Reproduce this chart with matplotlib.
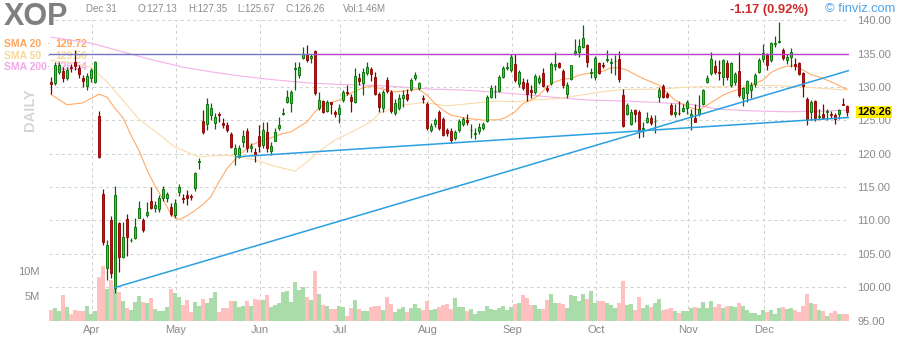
import numpy as np
import matplotlib
matplotlib.use("Agg")
import matplotlib.pyplot as plt
import matplotlib.transforms as mtrans

plt.rcParams['font.family'] = ['Liberation Sans', 'DejaVu Sans']

# daily candles, 18 Mar .. 31 Dec (200 sessions)
opens = [
    130.8, 130.55, 132.3, 132.4, 131.4, 132.95, 133.8, 132.8, 131.4, 130.2,
    131.3, 130.8, 125.65, 113.9, 102.8, 110.05, 99.9, 109.55, 104.55, 110.2,
    107.0, 107.3, 110.4, 110.05, 110.8, 112.9, 111.8, 111.65, 113.4, 113.3,
    112.05, 110.8, 114.3, 113.3, 113.8, 113.6, 114.8, 118.8, 124.9, 124.4,
    125.8, 124.55, 125.9, 124.55, 124.3, 122.95, 119.9, 119.55, 121.8, 123.45,
    120.9, 120.2, 122.7, 121.3, 123.3, 120.4, 121.9, 123.9, 126.0, 127.8,
    127.55, 132.75, 131.8, 134.4, 134.9, 134.3, 135.4, 126.8, 127.9, 126.4,
    127.7, 126.3, 125.9, 128.05, 129.25, 128.55, 127.7, 131.3, 130.55, 132.05,
    132.7, 131.45, 128.95, 126.8, 131.0, 129.3, 126.05, 126.9, 128.3, 128.9,
    129.7, 131.3, 129.9, 128.35, 127.4, 123.55, 124.4, 126.2, 125.2, 123.55,
    123.4, 122.3, 123.55, 124.4, 125.0, 123.5, 123.0, 123.4, 123.8, 124.9,
    128.55, 129.35, 129.4, 131.55, 132.9, 132.55, 133.4, 130.4, 130.7, 130.55,
    129.5, 129.2, 130.7, 132.05, 129.9, 130.55, 133.2, 133.55, 132.4, 128.9,
    131.2, 135.05, 135.2, 136.05, 136.3, 132.1, 131.55, 133.55, 133.25, 134.1,
    133.65, 133.85, 134.15, 128.8, 125.9, 124.4, 126.55, 126.3, 123.75, 124.7,
    125.3, 124.85, 128.55, 130.2, 129.0, 127.3, 125.9, 126.15, 126.4, 126.8,
    125.55, 125.4, 125.9, 127.4, 130.7, 132.05, 133.15, 132.2, 131.55, 133.55,
    130.3, 130.8, 132.4, 128.3, 129.05, 129.55, 130.4, 132.2, 134.2, 134.8,
    134.05, 136.4, 136.75, 135.55, 134.05, 134.55, 133.4, 133.55, 132.05, 128.2,
    126.3, 127.9, 125.5, 125.9, 126.2, 125.95, 125.8, 125.9, 127.45, 127.13,
]
highs = [
    131.55, 133.8, 133.8, 133.0, 133.0, 133.5, 135.6, 133.3, 131.8, 132.1,
    132.8, 133.9, 126.4, 114.7, 107.0, 110.6, 115.1, 109.8, 109.8, 111.0,
    107.3, 110.4, 112.9, 110.4, 112.8, 115.0, 112.9, 113.8, 115.2, 114.3,
    112.6, 113.2, 115.4, 113.9, 114.6, 114.0, 117.3, 119.4, 126.6, 128.3,
    127.55, 126.05, 126.3, 125.3, 124.8, 123.2, 121.4, 121.3, 123.5, 123.8,
    121.55, 120.8, 124.3, 124.8, 124.8, 121.8, 123.8, 125.55, 126.8, 129.55,
    129.55, 133.8, 133.8, 136.05, 136.3, 134.9, 135.55, 129.2, 128.05, 128.0,
    127.8, 126.55, 127.4, 129.55, 130.3, 128.9, 132.8, 132.05, 132.8, 133.8,
    133.05, 132.3, 129.3, 129.55, 131.5, 129.55, 128.2, 128.9, 129.55, 129.7,
    131.3, 132.2, 130.8, 128.8, 127.7, 124.55, 125.4, 126.55, 125.5, 123.9,
    123.8, 123.55, 125.2, 125.55, 125.9, 124.4, 123.8, 124.55, 124.8, 128.8,
    130.3, 130.3, 131.8, 133.1, 133.8, 134.9, 134.9, 132.6, 131.3, 131.2,
    130.3, 131.9, 131.8, 132.8, 130.3, 133.8, 135.3, 133.8, 132.7, 130.8,
    133.3, 137.2, 137.2, 139.3, 136.4, 132.8, 134.7, 133.7, 133.8, 135.55,
    134.3, 134.8, 135.4, 129.7, 127.55, 126.7, 126.7, 126.55, 124.8, 126.3,
    125.8, 125.8, 130.05, 130.4, 129.2, 127.55, 127.4, 127.9, 127.4, 128.05,
    126.7, 127.4, 128.8, 129.7, 131.8, 135.2, 134.0, 134.05, 134.2, 134.05,
    133.8, 132.3, 135.2, 130.05, 131.05, 130.8, 132.05, 134.3, 136.4, 135.05,
    136.7, 137.7, 139.7, 135.8, 134.9, 135.8, 134.3, 133.8, 132.3, 128.55,
    128.05, 128.05, 126.7, 127.4, 126.7, 126.4, 126.05, 126.7, 128.4, 127.35,
]
lows = [
    128.9, 130.3, 132.0, 130.8, 131.0, 132.3, 132.6, 131.3, 130.0, 129.5,
    130.8, 130.6, 119.3, 106.3, 101.1, 101.4, 99.1, 102.3, 104.3, 104.6,
    106.8, 107.2, 110.3, 108.3, 110.5, 111.7, 111.3, 111.3, 112.9, 112.8,
    110.6, 110.3, 113.7, 112.6, 112.3, 113.0, 114.4, 117.7, 122.9, 123.5,
    125.05, 123.75, 124.8, 123.9, 123.2, 120.8, 118.3, 119.3, 121.0, 120.3,
    120.3, 118.8, 120.3, 120.9, 120.3, 119.8, 121.9, 123.55, 125.8, 127.55,
    126.3, 129.55, 131.3, 134.2, 133.8, 133.55, 128.8, 126.55, 126.05, 126.2,
    125.9, 125.55, 124.55, 127.8, 128.8, 126.3, 127.55, 130.3, 128.8, 131.8,
    130.95, 128.8, 126.3, 126.3, 129.05, 126.05, 125.8, 126.6, 127.05, 127.9,
    129.4, 131.05, 129.55, 127.55, 123.55, 123.2, 124.0, 123.55, 122.6, 122.7,
    121.55, 122.05, 123.3, 124.2, 124.3, 122.3, 122.2, 123.0, 123.55, 124.7,
    128.3, 128.3, 129.2, 131.3, 132.55, 132.3, 130.8, 130.0, 129.5, 127.9,
    128.3, 129.0, 130.4, 130.05, 129.3, 130.3, 132.55, 132.8, 129.8, 128.3,
    131.05, 134.8, 134.55, 135.9, 133.05, 131.3, 131.05, 131.9, 132.8, 133.8,
    132.05, 131.8, 130.8, 124.05, 125.8, 124.3, 124.8, 122.3, 122.55, 124.55,
    124.3, 123.05, 127.7, 128.4, 128.3, 125.8, 125.55, 125.8, 126.3, 125.9,
    123.55, 124.7, 125.6, 127.3, 130.55, 131.8, 132.0, 131.05, 130.3, 131.05,
    130.05, 130.3, 128.55, 127.2, 127.8, 128.3, 130.05, 132.05, 133.8, 132.55,
    133.8, 136.05, 136.55, 134.05, 133.45, 133.05, 132.55, 131.8, 128.55, 124.3,
    125.05, 124.9, 125.2, 125.2, 125.05, 125.3, 124.4, 125.2, 127.3, 125.67,
]
closes = [
    130.4, 133.3, 133.3, 131.4, 132.55, 132.85, 133.2, 131.9, 130.9, 131.7,
    132.55, 133.8, 119.55, 106.8, 106.3, 102.05, 113.8, 104.55, 107.55, 107.55,
    107.1, 109.05, 111.9, 108.55, 111.2, 111.8, 112.3, 113.4, 114.7, 113.95,
    110.9, 112.65, 114.95, 113.2, 113.3, 113.5, 117.05, 118.9, 123.3, 127.4,
    126.8, 125.55, 125.8, 124.3, 123.55, 120.95, 120.8, 120.8, 122.7, 120.8,
    121.2, 119.8, 121.2, 123.6, 120.8, 121.15, 123.2, 124.3, 126.1, 128.55,
    129.3, 132.85, 133.05, 134.9, 134.05, 134.7, 129.05, 128.05, 126.3, 127.8,
    127.4, 125.9, 126.9, 129.3, 129.15, 127.9, 131.7, 130.9, 132.3, 133.05,
    131.9, 128.95, 126.95, 129.2, 129.4, 126.4, 127.55, 128.4, 128.8, 128.2,
    131.0, 131.8, 130.55, 128.25, 123.8, 124.15, 125.0, 123.8, 122.8, 123.05,
    122.05, 123.3, 124.9, 125.2, 124.7, 123.6, 123.1, 124.05, 124.4, 128.55,
    129.9, 129.45, 131.45, 132.8, 133.0, 134.55, 131.05, 132.2, 129.8, 128.9,
    129.2, 131.7, 131.4, 130.2, 129.55, 133.4, 133.4, 133.05, 130.3, 130.3,
    133.3, 135.4, 136.15, 137.3, 133.8, 132.2, 134.4, 132.05, 133.15, 134.2,
    133.75, 133.95, 131.2, 124.15, 127.3, 126.2, 125.9, 123.4, 123.85, 125.3,
    124.55, 124.95, 129.55, 128.55, 128.5, 126.0, 126.3, 126.05, 126.8, 127.7,
    125.9, 124.8, 126.7, 129.55, 131.4, 134.2, 132.2, 132.1, 134.05, 131.55,
    133.55, 131.9, 128.8, 129.8, 130.9, 130.3, 131.8, 134.05, 135.05, 133.3,
    136.55, 136.55, 136.85, 134.3, 134.55, 135.2, 133.2, 131.9, 130.2, 125.2,
    127.8, 125.3, 125.6, 125.4, 126.45, 125.85, 125.2, 126.5, 127.35, 126.26,
]
volume_m = [
    2.2, 2.7, 2.0, 5.3, 2.9, 1.4, 2.2, 2.0, 2.1, 3.1,
    1.4, 2.0, 9.0, 11.2, 6.5, 8.4, 6.5, 6.0, 4.1, 2.7,
    2.2, 3.9, 5.1, 3.9, 3.7, 4.7, 2.4, 2.0, 2.0, 2.9,
    6.5, 5.7, 4.9, 3.3, 4.3, 1.8, 3.9, 3.1, 4.5, 3.7,
    4.7, 5.9, 1.8, 2.7, 2.7, 4.1, 4.1, 2.9, 3.1, 4.1,
    3.1, 4.5, 4.3, 4.3, 5.3, 2.9, 3.3, 3.7, 5.9, 6.1,
    3.9, 8.0, 6.3, 6.9, 4.9, 4.3, 10.2, 5.5, 3.3, 3.1,
    2.4, 2.4, 3.1, 2.9, 1.0, 2.7, 4.3, 2.4, 2.0, 2.0,
    2.9, 3.1, 3.1, 2.2, 4.9, 3.5, 1.8, 2.4, 2.9, 1.8,
    2.7, 3.5, 2.7, 2.2, 4.1, 2.2, 2.4, 2.9, 3.3, 3.5,
    2.4, 4.7, 2.9, 2.9, 2.0, 2.4, 1.4, 2.0, 2.0, 3.1,
    2.4, 2.2, 2.7, 3.1, 2.2, 2.9, 3.5, 3.7, 5.3, 4.7,
    3.3, 3.3, 2.4, 2.4, 4.3, 5.5, 3.7, 3.7, 3.5, 2.7,
    5.3, 5.1, 4.1, 5.5, 4.5, 6.1, 3.7, 4.1, 4.1, 3.7,
    3.3, 2.7, 3.7, 8.2, 3.3, 3.5, 2.2, 4.9, 2.7, 3.3,
    2.9, 3.7, 4.5, 2.2, 2.4, 2.7, 2.0, 1.6, 2.0, 2.0,
    2.7, 2.9, 2.7, 3.9, 2.7, 4.1, 2.9, 3.5, 2.7, 3.1,
    3.1, 2.9, 3.7, 3.1, 2.2, 1.6, 1.6, 1.2, 2.2, 1.8,
    2.2, 1.4, 2.7, 2.9, 2.4, 2.7, 2.2, 1.8, 3.1, 5.5,
    3.7, 3.5, 2.2, 2.0, 1.0, 1.6, 2.0, 1.4, 1.4, 1.4,
]

# moving averages, read at sample sessions
sma20_idx = [0, 4, 8, 12, 14, 16, 18, 20, 22, 24, 26, 28, 30, 32, 34, 36, 38, 40,
             42, 44, 47, 50, 53, 55, 58, 60, 62, 64, 66, 68, 70, 72, 74, 76, 78,
             80, 83, 86, 88, 90, 92, 94, 96, 98, 100, 102, 104, 106, 108, 110,
             112, 114, 116, 118, 120, 122, 124, 126, 128, 130, 132, 134, 136,
             138, 140, 142, 144, 146, 148, 150, 152, 154, 156, 158, 160, 162,
             164, 166, 168, 170, 172, 174, 176, 178, 180, 182, 184, 186, 188,
             190, 192, 194, 196, 198, 199]
sma20_val = [128.9, 127.35, 127.65, 128.95, 128.5, 126.8, 125.4, 122.8, 120.5,
             117.6, 115.2, 113.2, 110.9, 110.1, 110.7, 111.5, 112.4, 113.6,
             115.8, 117.8, 119.8, 121.3, 122.05, 122.4, 123.05, 123.3, 124.05,
             124.8, 126.3, 127.4, 127.7, 128.05, 128.8, 129.4, 129.9, 130.15,
             129.7, 129.3, 129.4, 129.55, 129.7, 128.8, 127.55, 126.55, 125.8,
             125.55, 125.3, 125.2, 125.05, 125.1, 125.1, 125.55, 126.3, 127.55,
             128.05, 128.8, 130.05, 130.8, 131.2, 131.3, 131.8, 132.05, 132.2,
             132.4, 132.9, 132.9, 132.55, 131.9, 131.3, 130.8, 130.3, 129.2,
             128.05, 127.4, 126.9, 126.55, 127.3, 128.05, 128.8, 129.3, 129.7,
             130.05, 130.55, 131.05, 132.2, 132.8, 133.15, 133.2, 132.55,
             131.9, 131.55, 131.05, 130.55, 129.9, 129.72]
sma50_idx = [0, 5, 10, 14, 18, 22, 26, 31, 37, 43, 47, 51, 55, 59, 61, 63, 66,
             68, 71, 76, 80, 82, 85, 88, 93, 99, 105, 111, 116, 120, 127, 135,
             139, 143, 152, 160, 167, 175, 183, 191, 199]
sma50_val = [134.0, 133.7, 133.0, 130.8, 128.0, 125.2, 123.4, 121.0, 119.55,
             119.8, 119.6, 119.1, 118.3, 117.7, 117.4, 118.3, 119.8, 120.8,
             122.05, 123.55, 124.8, 126.05, 126.8, 127.3, 127.7, 127.2, 127.55,
             127.9, 127.8, 128.05, 128.3, 129.05, 129.4, 129.65, 129.7, 130.05,
             130.05, 130.3, 130.2, 129.9, 129.56]
sma200_idx = [0, 10, 24, 33, 40, 47, 55, 64, 72, 80, 87, 95, 104, 112, 120, 127,
              135, 144, 152, 160, 167, 175, 184, 192, 199]
sma200_val = [137.5, 136.6, 134.3, 133.0, 132.3, 131.7, 131.15, 130.65, 130.4,
              130.3, 130.05, 129.7, 129.55, 129.2, 128.8, 128.4, 128.05, 127.9,
              127.7, 127.4, 126.7, 126.45, 126.3, 126.4, 126.54]

# drawn trendlines / resistance
trend1_idx, trend1_val = [16.0, 199.5], [99.95, 132.5]
trend2_idx, trend2_val = [46.25, 199.5], [119.55, 125.45]
resist = 135.0

months = ['Apr', 'May', 'Jun', 'Jul', 'Aug', 'Sep', 'Oct', 'Nov', 'Dec']
month_idx = [10, 31, 52, 72, 94, 115, 136, 159, 178]
price_ticks = [95, 100, 105, 110, 115, 120, 125, 130, 135, 140]

o = np.array(opens)
h = np.array(highs)
l = np.array(lows)
c = np.array(closes)
v = np.array(volume_m)
n = len(c)
x = np.arange(n)
up = c >= o

W, H = 900, 340
fig = plt.figure(figsize=(9, 3.4), dpi=100)
rect = [49 / W, 19 / H, 800 / W, 307 / H]
axv = fig.add_axes(rect)
ax = fig.add_axes(rect)
ax.patch.set_visible(False)

pmin = 95 - 0.5 / 6.676
pmax = 140 + 6.5 / 6.676
for a in (ax, axv):
    a.set_xlim(-0.5, n - 0.5)
    for s in a.spines.values():
        s.set_visible(False)
ax.set_ylim(pmin, pmax)
axv.set_autoscale_on(False)
axv.set_ylim(0, 307 / 4.9)
axv.set_xticks([])
axv.set_yticks([])

grid_kw = dict(color='#d2d2d2', lw=0.75, ls=(0, (3, 3)), zorder=0)
for p in price_ticks[1:]:
    axv.plot([-0.5, n - 0.5], [p, p], transform=ax.transData, **grid_kw)
for m in month_idx:
    axv.plot([m + 0.25, m + 0.25], [pmin, 140], transform=ax.transData, **grid_kw)

vol_cols = np.where(up, '#a9dca9', '#ffc0c0')
axv.bar(x, v, width=1.0, color=vol_cols, linewidth=0, zorder=2)

# moving averages
ax.plot(sma200_idx, sma200_val, color='#f4b0ea', lw=0.8, zorder=2)
ax.plot(sma50_idx, sma50_val, color='#fadcaa', lw=0.8, zorder=2)
ax.plot(sma20_idx, sma20_val, color='#ffab68', lw=0.8, zorder=2)

# candles
wick_cols = np.where(up, '#006a00', '#8a0000')
body_cols = np.where(up, '#1fd81f', '#e80000')
ax.vlines(x, l, h, colors=wick_cols, lw=0.9, zorder=3)
ax.bar(x, np.maximum(np.abs(c - o), 0.07), bottom=np.minimum(o, c), width=0.72,
       color=body_cols, edgecolor=wick_cols, linewidth=0.6, zorder=4)

# trendlines
ax.plot(trend1_idx, trend1_val, color='#2a9fe2', lw=1.1, zorder=5)
ax.plot(trend2_idx, trend2_val, color='#2a9fe2', lw=1.1, zorder=5)
ax.plot([-0.5, 66], [resist, resist], color='#7474c2', lw=1.0, zorder=5)
ax.plot([66, n - 0.5], [resist, resist], color='#b43ec8', lw=1.0, zorder=5)

# axes labels
ax.yaxis.tick_right()
ax.set_yticks(price_ticks)
ax.set_yticklabels([f"{p:.2f}" for p in price_ticks])
ax.set_xticks([m + 0.25 for m in month_idx])
ax.set_xticklabels(months)
ax.tick_params(axis='y', length=0, pad=6, labelsize=8, labelcolor='#8a8a8a')
ax.tick_params(axis='x', length=0, pad=3, labelsize=8, labelcolor='#8a8a8a')

blend = mtrans.blended_transform_factory(ax.transAxes, ax.transData)
ax.text((857 - 49) / 800, closes[-1], f"{closes[-1]:.2f}", transform=blend,
        ha='left', va='center', fontsize=8, fontweight='bold', color='black',
        bbox=dict(boxstyle='square,pad=0.12', fc='#ffee00', ec='none'),
        zorder=10, clip_on=False)

vblend = mtrans.blended_transform_factory(fig.transFigure, axv.transData)
for val, lab in [(10, '10M'), (5, '5M')]:
    axv.text(40 / W, val, lab, transform=vblend, ha='right', va='center',
             fontsize=8, color='#8a8a8a', clip_on=False)


def fx(px):
    return px / W


def fy(py):
    return 1 - py / H


fig.text(fx(4), fy(25), 'XOP', fontsize=22, fontweight='bold', color='#808080')
fig.text(fx(86), fy(12), 'Dec 31', fontsize=7, color='#8c8c8c')
for px, s in [(138, 'O:127.13'), (188, 'H:127.35'), (237, 'L:125.67'),
              (285, 'C:126.26'), (343, 'Vol:1.46M')]:
    fig.text(fx(px), fy(12), s, fontsize=7, color='#8c8c8c')
fig.text(fx(730), fy(12.7), '-1.17 (0.92%)', fontsize=9.3, fontweight='bold',
         color='#cc2a2a')
fig.text(fx(825), fy(12.5), '\u00a9 finviz.com', fontsize=9.3, color='#4fa3ea')

ft = fig.transFigure
sma_labels = [('SMA 20', '129.72', '#ffa45c', 44),
              ('SMA 50', '129.56', '#f6d89c', 56),
              ('SMA 200', '126.54', '#f2a8e6', 67)]
for name, val, col, py in sma_labels:
    ax.text(fx(4), fy(py), name, transform=ft, fontsize=7.5, fontweight='bold',
            color=col, va='center', zorder=1)
    ax.text(fx(47), fy(py), '\u00b7', transform=ft, fontsize=7.5, color='#999999',
            va='center', zorder=1)
    ax.text(fx(55), fy(py), val, transform=ft, fontsize=7.5, fontweight='bold',
            color=col, va='center', zorder=1)

ax.text(fx(30), fy(110), 'DAILY', transform=ft, rotation=90, fontsize=10.5,
        fontweight='bold', color='#d6d6d6', ha='center', va='center', zorder=1)

fig.savefig('out.png', dpi=100)
